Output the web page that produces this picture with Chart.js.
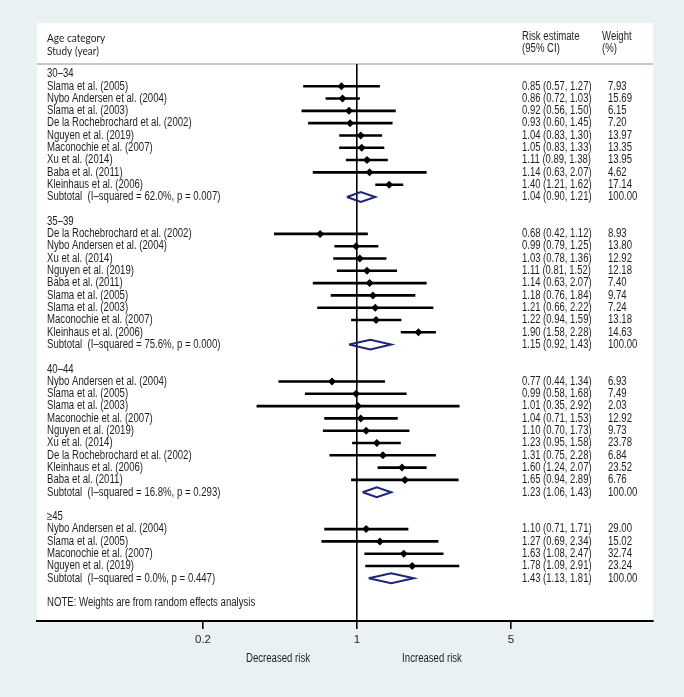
<!DOCTYPE html>
<html>
<head>
<meta charset="utf-8">
<script src="https://cdn.jsdelivr.net/npm/chart.js@4.4.1/dist/chart.umd.min.js"></script>
<style>
  html, body { margin: 0; padding: 0; background: #e9f1f3; }
  #wrap { width: 684px; height: 697px; position: relative; }
</style>
</head>
<body>
<div id="wrap"><canvas id="forest"></canvas></div>
<script>
// age groups and their studies
const groupLabels = ['30–34', '35–39', '40–44', '≥45'];

const studyNames = [
  ['Slama et al. (2005)', 'Nybo Andersen et al. (2004)', 'Slama et al. (2003)', 'De la Rochebrochard et al. (2002)',
   'Nguyen et al. (2019)', 'Maconochie et al. (2007)', 'Xu et al. (2014)', 'Baba et al. (2011)', 'Kleinhaus et al. (2006)'],
  ['De la Rochebrochard et al. (2002)', 'Nybo Andersen et al. (2004)', 'Xu et al. (2014)', 'Nguyen et al. (2019)',
   'Baba et al. (2011)', 'Slama et al. (2005)', 'Slama et al. (2003)', 'Maconochie et al. (2007)', 'Kleinhaus et al. (2006)'],
  ['Nybo Andersen et al. (2004)', 'Slama et al. (2005)', 'Slama et al. (2003)', 'Maconochie et al. (2007)',
   'Nguyen et al. (2019)', 'Xu et al. (2014)', 'De la Rochebrochard et al. (2002)', 'Kleinhaus et al. (2006)', 'Baba et al. (2011)'],
  ['Nybo Andersen et al. (2004)', 'Slama et al. (2005)', 'Maconochie et al. (2007)', 'Nguyen et al. (2019)']
];
const riskEst = [
  [0.85, 0.86, 0.92, 0.93, 1.04, 1.05, 1.11, 1.14, 1.40],
  [0.68, 0.99, 1.03, 1.11, 1.14, 1.18, 1.21, 1.22, 1.90],
  [0.77, 0.99, 1.01, 1.04, 1.10, 1.23, 1.31, 1.60, 1.65],
  [1.10, 1.27, 1.63, 1.78]
];
const ciLow = [
  [0.57, 0.72, 0.56, 0.60, 0.83, 0.83, 0.89, 0.63, 1.21],
  [0.42, 0.79, 0.78, 0.81, 0.63, 0.76, 0.66, 0.94, 1.58],
  [0.44, 0.58, 0.35, 0.71, 0.70, 0.95, 0.75, 1.24, 0.94],
  [0.71, 0.69, 1.08, 1.09]
];
const ciHigh = [
  [1.27, 1.03, 1.50, 1.45, 1.30, 1.33, 1.38, 2.07, 1.62],
  [1.12, 1.25, 1.36, 1.52, 2.07, 1.84, 2.22, 1.59, 2.28],
  [1.34, 1.68, 2.92, 1.53, 1.73, 1.58, 2.28, 2.07, 2.89],
  [1.71, 2.34, 2.47, 2.91]
];
const weights = [
  [7.93, 15.69, 6.15, 7.20, 13.97, 13.35, 13.95, 4.62, 17.14],
  [8.93, 13.80, 12.92, 12.18, 7.40, 9.74, 7.24, 13.18, 14.63],
  [6.93, 7.49, 2.03, 12.92, 9.73, 23.78, 6.84, 23.52, 6.76],
  [29.00, 15.02, 32.74, 23.24]
];

// pooled (random effects) per group
const subHetero = ['I–squared = 62.0%, p = 0.007', 'I–squared = 75.6%, p = 0.000',
                   'I–squared = 16.8%, p = 0.293', 'I–squared = 0.0%, p = 0.447'];
const subEst = [1.04, 1.15, 1.23, 1.43];
const subLow = [0.90, 0.92, 1.06, 1.13];
const subHigh = [1.21, 1.43, 1.43, 1.81];

const xTicks = [0.2, 1, 5];
const noteText = 'NOTE: Weights are from random effects analysis';

// ---- build rows ----
const textRows = [];
const ciData = [];
const pointData = [];
const diamondSets = [];
let row = 0;
groupLabels.forEach((g, gi) => {
  textRows.push({ r: row, label: g });
  studyNames[gi].forEach((name, si) => {
    const r = row + 1 + si;
    const e = riskEst[gi][si], lo = ciLow[gi][si], hi = ciHigh[gi][si];
    textRows.push({ r, label: name,
      est: `${e.toFixed(2)} (${lo.toFixed(2)}, ${hi.toFixed(2)})`, w: weights[gi][si].toFixed(2) });
    ciData.push({ x: lo, y: r }, { x: hi, y: r }, { x: null, y: null });
    pointData.push({ x: e, y: r });
  });
  const sr = row + studyNames[gi].length + 1;
  textRows.push({ r: sr, label: `Subtotal  (${subHetero[gi]})`,
    est: `${subEst[gi].toFixed(2)} (${subLow[gi].toFixed(2)}, ${subHigh[gi].toFixed(2)})`, w: '100.00' });
  const h = 0.4;
  diamondSets.push({
    type: 'line',
    data: [{ x: subLow[gi], y: sr }, { x: subEst[gi], y: sr - h }, { x: subHigh[gi], y: sr },
           { x: subEst[gi], y: sr + h }, { x: subLow[gi], y: sr }],
    borderColor: '#1c2578', borderWidth: 2, pointRadius: 0, fill: false, tension: 0, showLine: true
  });
  row = sr + 2;
});
textRows.push({ r: row, label: noteText });

const SANS = '12px "Liberation Sans", Arial, sans-serif';
const HEAD = '12px Lato, "Open Sans", sans-serif';

// condensed text: the original uses a narrow Helvetica
function narrowText(c, txt, x, y, sx, align) {
  c.save();
  c.translate(x, y);
  c.scale(sx, 1);
  c.textAlign = align || 'left';
  c.fillText(txt, 0, 0);
  c.restore();
}

const panelPlugin = {
  id: 'panel',
  beforeDraw(chart) {
    const c = chart.ctx;
    c.save();
    c.fillStyle = '#e9f1f3';
    c.fillRect(0, 0, chart.width, chart.height);
    c.fillStyle = '#ffffff';
    c.fillRect(37, 23, 616, 598);
    c.strokeStyle = '#b4b4b4';
    c.lineWidth = 1.5;
    c.beginPath();
    c.moveTo(37, 64);
    c.lineTo(653, 64);
    c.stroke();
    c.restore();
  },
  afterDraw(chart) {
    const c = chart.ctx;
    const ys = chart.scales.y;
    c.save();
    c.fillStyle = '#1e1e1e';
    c.textBaseline = 'middle';
    c.font = HEAD;
    narrowText(c, 'Age category', 47, 38, 0.84);
    narrowText(c, 'Study (year)', 47, 51, 0.84);
    c.font = SANS;
    narrowText(c, 'Risk estimate', 522, 37, 0.8);
    narrowText(c, '(95% CI)', 522, 49, 0.8);
    narrowText(c, 'Weight', 602, 37, 0.8);
    narrowText(c, '(%)', 602, 49, 0.8);
    textRows.forEach(t => {
      const y = ys.getPixelForValue(t.r);
      narrowText(c, t.label, 47, y, 0.8);
      if (t.est) narrowText(c, t.est, 522, y, 0.79);
      if (t.w) narrowText(c, t.w, 608, y, 0.8);
    });
    narrowText(c, 'Decreased risk', 278, 659, 0.8, 'center');
    narrowText(c, 'Increased risk', 432, 659, 0.8, 'center');
    c.restore();
  }
};

const ctx = document.getElementById('forest');
const forest = new Chart(ctx, {
  type: 'scatter',
  data: {
    datasets: [
      ...diamondSets,
      {
        type: 'line',
        data: ciData,
        borderColor: '#000',
        borderWidth: 2.6,
        pointRadius: 0,
        spanGaps: false,
        showLine: true,
        borderCapStyle: 'butt'
      },
      {
        type: 'scatter',
        data: pointData,
        pointStyle: 'rectRot',
        pointRadius: 4,
        backgroundColor: '#000',
        borderWidth: 0
      }
    ]
  },
  options: {
    responsive: true,
    maintainAspectRatio: false,
    animation: false,
    layout: { padding: { left: 37, right: 31, top: 64, bottom: 36 } },
    plugins: { legend: { display: false }, tooltip: { enabled: false } },
    scales: {
      x: {
        type: 'logarithmic',
        min: Math.exp(-3.344),
        max: Math.exp(3.093),
        afterBuildTicks: s => { s.ticks = xTicks.map(v => ({ value: v })); },
        afterFit: s => { s.height = 40; },
        ticks: {
          autoSkip: false,
          maxRotation: 0,
          padding: 4,
          color: '#1e1e1e',
          font: { family: '"Liberation Sans", Arial, sans-serif', size: 11.5 },
          callback: v => String(v)
        },
        grid: {
          drawOnChartArea: true,
          color: c => (c.tick && c.tick.value === 1 ? '#000' : 'rgba(0,0,0,0)'),
          lineWidth: 1.6,
          drawTicks: true,
          tickLength: 8,
          tickColor: '#000',
          tickWidth: 1.6
        },
        border: { display: true, color: '#000', width: 2 }
      },
      y: {
        type: 'linear',
        display: false,
        reverse: true,
        min: -0.81,
        max: 44.47
      }
    }
  },
  plugins: [panelPlugin]
});
</script>
</body>
</html>
